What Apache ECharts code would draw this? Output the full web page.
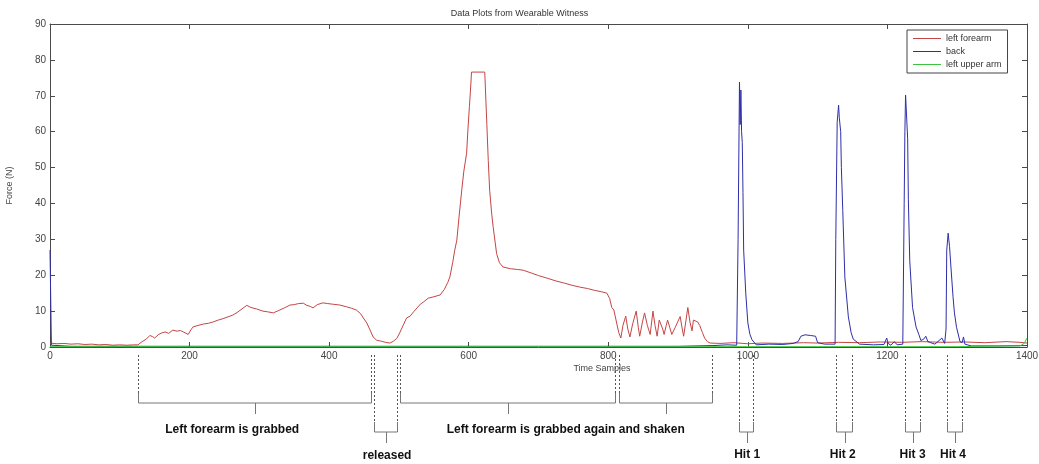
<!DOCTYPE html>
<html>
<head>
<meta charset="utf-8">
<script src="https://cdn.jsdelivr.net/npm/echarts@6/dist/echarts.min.js"></script>
<style>
html,body{margin:0;padding:0;background:#fff;}
#chart{width:1039px;height:464px;}
</style>
</head>
<body>
<div id="chart"></div>
<script>
// ---- data ----
const xTicks = [0, 200, 400, 600, 800, 1000, 1200, 1400];
const yTicks = [0, 10, 20, 30, 40, 50, 60, 70, 80, 90];
const seriesNames = ['left forearm', 'back', 'left upper arm'];

const forearmX = [0,10,20,30,40,50,60,70,80,90,100,110,120,126,132,138,143,147,150,155,160,165,170,176,182,187,191,198,202,205,212,220,227,234,241,248,255,262,268,275,282,288,296,305,312,320,328,336,344,350,356,363,368,373,377,383,391,398,406,415,425,432,439,445,450,454,458,463,468,475,481,487,492,497,501,506,511,516,521,527,531,535,542,550,559,565,570,573,577,580,583,586,590,593,597,599,601,603,604,623,626,628,630,633,635,640,644,649,660,670,678,690,700,712,725,737,748,759,770,780,790,798,802,805,808,810,815,818,821,825,828,831,835,840,843,845,849,852,856,860,864,867,870,873,875,878,880,883,885,888,891,896,903,906,908,911,914,917,920,922,924,928,931,935,938,942,946,960,980,1000,1020,1050,1080,1100,1130,1160,1190,1220,1250,1280,1310,1340,1370,1390,1400];
const forearmY = [1.1,0.9,1.0,0.8,0.9,0.7,0.8,0.6,0.7,0.5,0.6,0.5,0.6,0.6,1.5,2.2,3.2,2.9,2.5,3.4,3.9,4.2,3.8,4.7,4.4,4.6,4.2,3.5,4.8,5.6,6.0,6.4,6.6,7.0,7.5,7.9,8.4,8.9,9.6,10.6,11.6,11.0,10.6,10.0,9.8,9.5,10.2,10.9,11.7,11.8,12.1,12.2,11.6,11.3,10.9,11.8,12.3,12.1,11.9,11.7,11.2,10.8,10.3,9.3,7.8,6.7,5.0,2.8,1.9,1.6,1.3,1.1,1.6,2.4,3.9,6.0,8.1,8.6,9.8,11.1,12.0,12.5,13.6,14.0,14.5,16.0,18.0,19.5,23.5,27.0,29.8,36.0,43.7,49.0,54.0,61.0,67.0,73.0,76.6,76.6,62.0,52.0,43.7,37.0,33.5,26.0,23.5,22.3,21.8,21.6,21.4,20.6,19.9,19.2,18.4,17.8,17.2,16.7,16.3,15.8,15.4,15.0,13.5,11.0,10.3,10.0,4.0,2.5,6.0,8.6,5.0,2.8,6.5,10.0,5.5,3.0,7.0,9.5,6.0,3.5,10.0,6.0,3.0,7.5,8.0,5.0,3.5,6.0,7.5,5.5,3.5,5.5,8.5,5.0,3.0,7.0,11.0,7.0,4.5,7.5,8.0,7.0,6.0,4.0,2.5,1.5,1.1,1.0,1.2,0.9,1.1,1.0,1.2,1.1,1.3,1.2,1.4,1.3,1.5,1.3,1.4,1.2,1.5,1.3,1.1];

const backX = [0,2,30,100,200,300,400,500,600,700,800,900,950,970,984,986,988,989,990,991,992,993,994,997,1000,1003,1006,1012,1030,1050,1065,1072,1076,1082,1090,1097,1100,1110,1125,1126,1128,1130,1131,1133,1134,1136,1139,1144,1148,1151,1160,1180,1195,1199,1201,1205,1210,1214,1222,1224,1225,1226,1228,1229,1230,1232,1236,1241,1245,1248,1252,1255,1258,1262,1268,1274,1278,1282,1284,1285,1287,1289,1291,1294,1296,1299,1301,1304,1307,1309,1311,1320,1360,1400];
const backY = [27,0.5,0.2,0.2,0.2,0.2,0.2,0.2,0.2,0.2,0.2,0.2,0.4,0.6,0.5,30,73.8,62,71.6,60,57,43,27,15,6.7,3.5,2.0,0.6,0.8,0.7,1.0,1.5,3.0,3.4,3.2,3.0,1.2,0.8,0.8,30,62.6,67.4,64,60,50,38,19.5,8.4,4.0,2.2,0.8,0.6,0.7,2.5,1.0,0.5,1.5,0.6,0.8,40,60,70.2,70,58,41,24,11,5.6,3.5,1.8,2.2,3.0,1.5,1.2,0.8,1.8,2.5,1.0,5,27,31.7,28,22.3,14,9.5,5.5,3.9,1.5,1.2,2.8,0.8,0.3,0.3,0.4];

const upperArmX = [0,100,200,300,400,500,600,700,800,900,1000,1100,1200,1300,1390,1396,1400];
const upperArmY = [0.1,0.1,0.1,0.1,0.1,0.1,0.1,0.1,0.1,0.1,0.1,0.1,0.1,0.1,0.3,1.0,2.5];

// annotation spans (time samples) and labels
const annSpans = [[126,460],[464,497],[501,809],[815,948],[988,1008],[1127,1149],[1225,1246],[1285,1307]];
const annLabels = ['Left forearm is grabbed','released','Left forearm is grabbed again and shaken','Hit 1','Hit 2','Hit 3','Hit 4'];
const annLabelX = [261, 483, 739, 999, 1136, 1236, 1294];

function zip(xs, ys){ return xs.map((x,i)=>[x, ys[i]]); }

const colors = ['#c44545', '#2e2eaa', '#3cc43c'];
const axisColor = '#4a4a4a';
const font = 'Arial, "Liberation Sans", sans-serif';

const chart = echarts.init(document.getElementById('chart'), null, {renderer:'canvas'});

const axisCommon = {
  min: 0,
  axisLine: {show:true, onZero:false, lineStyle:{color:axisColor, width:1}},
  axisTick: {show:true, inside:true, length:5, lineStyle:{color:axisColor}},
  splitLine: {show:false},
};

chart.setOption({
  animation: false,
  backgroundColor: '#fff',
  color: colors,
  title: {
    text: 'Data Plots from Wearable Witness',
    left: 'center', top: 4,
    textStyle: {fontSize: 9, fontWeight: 'normal', color: '#333', fontFamily: font}
  },
  legend: {
    orient: 'vertical',
    left: 907, top: 30,
    padding: [4, 6, 4, 6],
    itemGap: 4,
    itemWidth: 28, itemHeight: 1,
    icon: 'rect',
    borderColor: '#444', borderWidth: 1,
    backgroundColor: '#fff',
    textStyle: {fontSize: 9, color: '#333', fontFamily: font},
    data: seriesNames.map((n, i) => ({name: n, itemStyle: {color: colors[i]}}))
  },
  grid: {left: 50, right: 12, top: 24, bottom: 117, show: false, outerBoundsMode: 'none', containLabel: false},
  xAxis: [
    Object.assign({}, axisCommon, {
      type: 'value', max: 1400, interval: 200, position: 'bottom',
      axisLabel: {fontSize: 10, color: '#444', margin: 4, fontFamily: font,
        formatter: v => String(v)},
    }),
    Object.assign({}, axisCommon, {
      type: 'value', max: 1400, interval: 200, position: 'top',
      axisLabel: {show: false}
    })
  ],
  yAxis: [
    Object.assign({}, axisCommon, {
      type: 'value', max: 90, interval: 10, position: 'left',
      name: 'Force (N)', nameLocation: 'middle', nameGap: 36, nameRotate: 90,
      nameTextStyle: {fontSize: 9, color: '#444', fontFamily: font},
      axisLabel: {fontSize: 10, color: '#444', margin: 4, fontFamily: font},
    }),
    Object.assign({}, axisCommon, {
      type: 'value', max: 90, interval: 10, position: 'right',
      axisLabel: {show: false}
    })
  ],
  series: [
    {name: seriesNames[0], type: 'line', data: zip(forearmX, forearmY), showSymbol: false,
     lineStyle: {width: 1, color: colors[0]}, itemStyle: {color: colors[0]}, z: 2},
    {name: seriesNames[1], type: 'line', data: zip(backX, backY), showSymbol: false,
     lineStyle: {width: 1, color: colors[1]}, itemStyle: {color: colors[1]}, z: 3},
    {name: seriesNames[2], type: 'line', data: zip(upperArmX, upperArmY), showSymbol: false,
     lineStyle: {width: 1, color: colors[2]}, itemStyle: {color: colors[2]}, z: 4}
  ]
});

// ---- annotations below the axis ----
function px(v){ return chart.convertToPixel({xAxisIndex: 0}, v); }
const graphics = [];
graphics.push({type:'text', silent:true, style:{
  text: 'Time Samples', x: 602, y: 369, fill: '#444', font: '9px ' + font,
  textAlign: 'center', textVerticalAlign: 'middle'}});

const lowLevel = [false, true, false, false, true, true, true, true];
annSpans.forEach((sp, i) => {
  const low = lowLevel[i];
  const level = low ? 432 : 403;
  const capTop = level - 10;
  const a = Math.round(px(sp[0])) + 0.5;
  const b = Math.round(px(sp[1])) + 0.5;
  const c = Math.round((a + b) / 2) + 0.5;
  [a, b].forEach(x => {
    graphics.push({type:'line', shape:{x1:x, y1:355, x2:x, y2:capTop},
      style:{stroke:'#555', lineWidth:1, lineDash:[2,2]}, silent:true});
  });
  graphics.push({type:'polyline', shape:{points:[[a,capTop],[a,level],[b,level],[b,capTop]]},
    style:{stroke:'#777', lineWidth:1, fill:null}, silent:true});
  graphics.push({type:'line', shape:{x1:c, y1:level, x2:c, y2:level + 11},
    style:{stroke:'#777', lineWidth:1}, silent:true});
});

const labelY = [430, 456, 430, 455, 455, 455, 455];
annLabels.forEach((t, i) => {
  graphics.push({type:'text', style:{
    text: t, x: px(annLabelX[i]), y: labelY[i],
    fill: '#111', font: 'bold 12px ' + font,
    textAlign: 'center', textVerticalAlign: 'middle'}, silent:true});
});

chart.setOption({graphic: graphics});
</script>
</body>
</html>
